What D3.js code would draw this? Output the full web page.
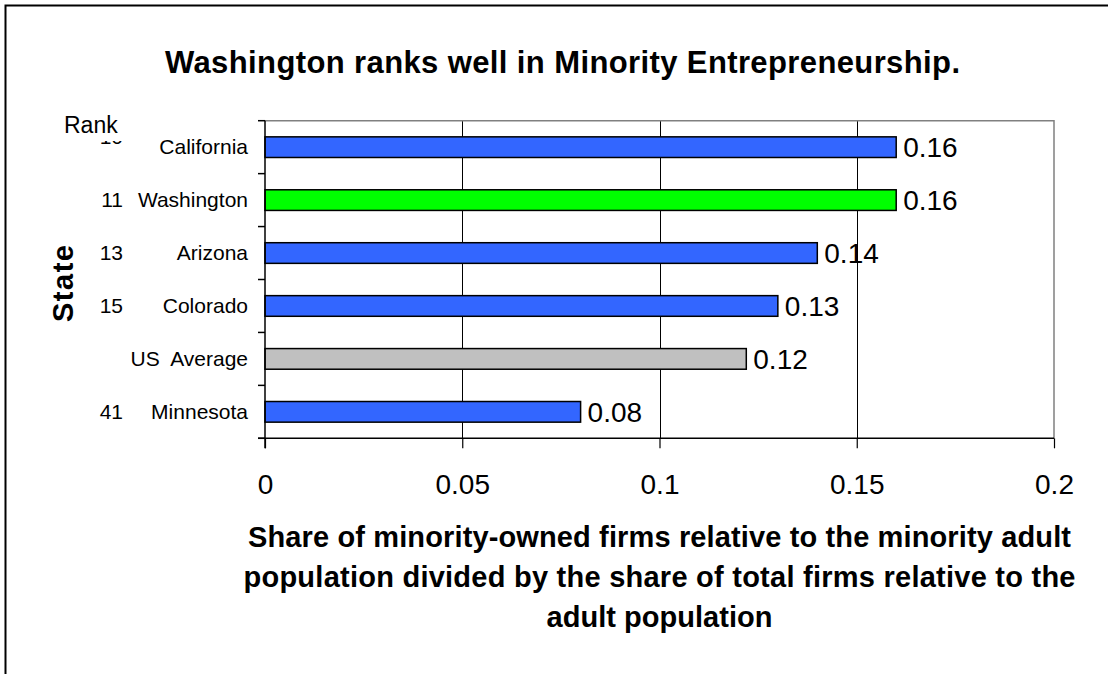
<!DOCTYPE html>
<html>
<head>
<meta charset="utf-8">
<script src="https://cdn.jsdelivr.net/npm/d3@7"></script>
<style>
  body { margin: 0; background: #fff; }
  text { font-family: Arial, "Liberation Sans", sans-serif; fill: #000; }
</style>
</head>
<body>
<svg id="chart"></svg>
<script>
const ranks = ["10", "11", "13", "15", "", "41"];
const states = ["California", "Washington", "Arizona", "Colorado", "US  Average", "Minnesota"];
const values = [0.16, 0.16, 0.14, 0.13, 0.122, 0.08];
const barColors = ["#3366ff", "#00ff00", "#3366ff", "#3366ff", "#c0c0c0", "#3366ff"];
const xTicks = [0, 0.05, 0.1, 0.15, 0.2];
const titleText = "Washington ranks well in Minority Entrepreneurship.";
const xTitleLines = [
  "Share of minority-owned firms relative to the minority adult",
  "population divided by the share of total firms relative to the",
  "adult population"
];
// measured widths of the bold titles (the original renders them wide)
const xTitleWidths = [823, 832, 226];

function drawChart() {
  const width = 1108, height = 674;
  const svg = d3.select("#chart").attr("width", width).attr("height", height);

  const left = 265, right = 1054, top = 120.7, bottom = 438.3;

  const data = states.map((s, i) => ({ state: s, rank: ranks[i], value: values[i], color: barColors[i] }));

  const x = d3.scaleLinear().domain([0, 0.2]).range([left, right]);
  const y = d3.scaleBand().domain(states).range([top, bottom]).paddingInner(0.61).paddingOuter(0.305);

  // outer frame (runs off the right and bottom edges)
  svg.append("rect")
    .attr("x", 5.5).attr("y", 5.5)
    .attr("width", 1120).attr("height", 690)
    .attr("fill", "none").attr("stroke", "#000").attr("stroke-width", 2);

  // gridlines
  svg.append("g").selectAll("line")
    .data(xTicks.slice(1, -1))
    .enter().append("line")
    .attr("x1", d => Math.round(x(d)) + 0.5).attr("x2", d => Math.round(x(d)) + 0.5)
    .attr("y1", top).attr("y2", bottom)
    .attr("stroke", "#000").attr("stroke-width", 1);

  // plot border top/right
  svg.append("path")
    .attr("d", `M${left},${top}H${right}V${bottom}`)
    .attr("fill", "none").attr("stroke", "#808080").attr("stroke-width", 1.5);

  // bars
  svg.append("g").selectAll("rect")
    .data(data)
    .enter().append("rect")
    .attr("x", x(0))
    .attr("y", d => y(d.state))
    .attr("width", d => x(d.value) - x(0))
    .attr("height", y.bandwidth())
    .attr("fill", d => d.color)
    .attr("stroke", "#000").attr("stroke-width", 1.5);

  // value labels
  svg.append("g").selectAll("text")
    .data(data)
    .enter().append("text")
    .attr("x", d => x(d.value) + 7)
    .attr("y", d => y(d.state) + y.bandwidth() / 2 + 10)
    .style("font-size", "28px")
    .text(d => d3.format(".2f")(d.value));

  // left axis with ticks at category boundaries
  const bounds = states.map(s => y(s) - y.step() * y.paddingInner() / 2).concat([bottom]);
  bounds[0] = top;
  svg.append("line")
    .attr("x1", left).attr("x2", left).attr("y1", top).attr("y2", bottom + 10)
    .attr("stroke", "#000").attr("stroke-width", 1.5);
  svg.append("g").selectAll("line")
    .data(bounds)
    .enter().append("line")
    .attr("x1", left - 7).attr("x2", left)
    .attr("y1", d => d).attr("y2", d => d)
    .attr("stroke", "#000").attr("stroke-width", 1.5);

  // bottom axis
  const xAxis = d3.axisBottom(x).tickValues(xTicks).tickSize(10).tickPadding(26)
    .tickFormat(d => d === 0 ? "0" : String(d));
  const gx = svg.append("g").attr("transform", `translate(0,${bottom})`).call(xAxis);
  gx.select(".domain").remove();
  gx.append("line").attr("x1", left - 7).attr("x2", right).attr("stroke", "#000").attr("stroke-width", 1.5);
  gx.selectAll(".tick line").attr("stroke", "#000").attr("stroke-width", 1.2);
  gx.selectAll(".tick text")
    .style("font-size", "28px")
    .style("font-family", "Arial, 'Liberation Sans', sans-serif")
    .attr("fill", "#000");

  // category labels
  const labels = svg.append("g");
  labels.selectAll(".state")
    .data(data)
    .enter().append("text")
    .attr("class", "state")
    .attr("x", 248)
    .attr("y", d => y(d.state) + y.bandwidth() / 2 + 7)
    .attr("text-anchor", "end")
    .style("font-size", "21px")
    .style("white-space", "pre")
    .text(d => d.state);
  labels.selectAll(".rank")
    .data(data)
    .enter().append("text")
    .attr("class", "rank")
    .attr("x", 123)
    .attr("y", (d, i) => y(d.state) + y.bandwidth() / 2 + 7 - (i === 0 ? 10 : 0))
    .attr("text-anchor", "end")
    .style("font-size", "21px")
    .text(d => d.rank);

  // "Rank" header box covering the first rank
  svg.append("rect")
    .attr("x", 55).attr("y", 106).attr("width", 107).attr("height", 35)
    .attr("fill", "#fff");
  svg.append("text")
    .attr("x", 64).attr("y", 133)
    .style("font-size", "23px")
    .text("Rank");

  // title
  svg.append("text")
    .attr("x", 562.5).attr("y", 73)
    .attr("text-anchor", "middle")
    .attr("textLength", 795).attr("lengthAdjust", "spacing")
    .style("font-size", "31px").style("font-weight", "bold")
    .text(titleText);

  // y axis title
  svg.append("text")
    .attr("transform", "translate(73,283.5) rotate(-90)")
    .attr("text-anchor", "middle")
    .attr("textLength", 77).attr("lengthAdjust", "spacing")
    .style("font-size", "29px").style("font-weight", "bold")
    .text("State");

  // x axis title
  svg.append("g").selectAll("text")
    .data(xTitleLines)
    .enter().append("text")
    .attr("x", 659.5)
    .attr("y", (d, i) => 546.7 + i * 40)
    .attr("text-anchor", "middle")
    .attr("textLength", (d, i) => xTitleWidths[i]).attr("lengthAdjust", "spacing")
    .style("font-size", "29px").style("font-weight", "bold")
    .text(d => d);
}

drawChart();
</script>
</body>
</html>
